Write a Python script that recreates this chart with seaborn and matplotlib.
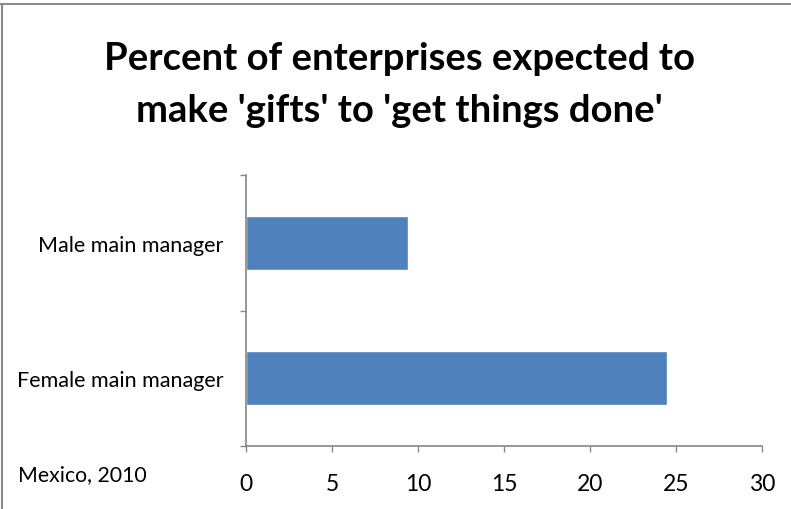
import matplotlib
matplotlib.use("Agg")
import matplotlib.pyplot as plt
from matplotlib.lines import Line2D
import seaborn as sns
import pandas as pd

categories = ["Male main manager", "Female main manager"]
values = [9.4, 24.5]
x_ticks = [0, 5, 10, 15, 20, 25, 30]
title = "Percent of enterprises expected to\nmake 'gifts' to 'get things done'"
note = "Mexico, 2010"

sns.set_theme(style="white")
plt.rcParams["font.family"] = ["Lato", "DejaVu Sans"]
plt.rcParams["text.color"] = "black"
plt.rcParams["xtick.color"] = "black"
plt.rcParams["ytick.color"] = "black"

W, H = 791, 510
fig = plt.figure(figsize=(W / 100, H / 100), dpi=100)
left, right, top, bottom = 246, 762, 176, 447
ax = fig.add_axes([left / W, 1 - bottom / H, (right - left) / W, (bottom - top) / H])

df = pd.DataFrame({"group": categories, "pct": values})
sns.barplot(data=df, y="group", x="pct", orient="h", color="#4F81BD",
            saturation=1, width=0.4, ax=ax)

ax.set_xlim(0, 30)
ax.set_ylim(1.5, -0.5)
ax.set_xticks(x_ticks)
ax.set_xticklabels([str(t) for t in x_ticks], fontsize=16.5)
ax.set_xlabel("")
ax.set_ylabel("")

# category labels centred on bars, tick marks at category boundaries
ax.set_yticks([-0.5, 0.5, 1.5])
ax.set_yticklabels([])
ax.set_yticks([0, 1], minor=True)
ax.set_yticklabels(categories, minor=True, fontsize=15.5)
ax.tick_params(axis="y", which="minor", length=0, pad=16)
ax.tick_params(axis="y", which="major", length=4.3, width=1, color="#868686",
               direction="out", left=True)
ax.tick_params(axis="x", length=4.3, width=1, color="#868686", direction="out",
               bottom=True, pad=15)

for s in ["top", "right"]:
    ax.spines[s].set_visible(False)
for s in ["left", "bottom"]:
    ax.spines[s].set_color("#868686")
    ax.spines[s].set_linewidth(1.2)

fig.text(399 / W, 1 - 85 / H, title, ha="center", va="center",
         fontsize=27.5, fontweight="bold", linespacing=1.65)
fig.text(18 / W, 1 - 475 / H, note, ha="left", va="center", fontsize=15.3)

# outer chart frame
fig.add_artist(Line2D([0, 1], [1 - 5 / H, 1 - 5 / H], transform=fig.transFigure,
                      color="#8c8c8c", lw=1.5))
fig.add_artist(Line2D([1.5 / W, 1.5 / W], [0, 1 - 5 / H], transform=fig.transFigure,
                      color="#8c8c8c", lw=1.5))

fig.savefig("out.png", dpi=100)
